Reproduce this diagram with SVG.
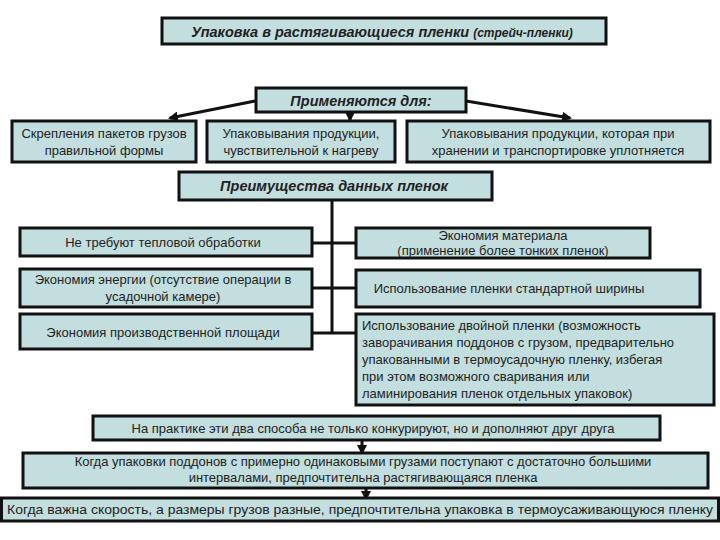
<svg xmlns="http://www.w3.org/2000/svg" width="720" height="540" viewBox="0 0 720 540">
<style>
.b{fill:#c2dede;stroke:#111;stroke-width:3}
text{font-family:"Liberation Sans",Arial,sans-serif;font-size:13px;fill:#222;text-anchor:middle}
.h{font-weight:bold;font-style:italic;font-size:14.5px}
.l{text-anchor:start}
.c{stroke:#111;stroke-width:3;fill:none}
</style>
<defs><marker id="a" markerWidth="10" markerHeight="10" refX="8" refY="5" orient="auto" markerUnits="userSpaceOnUse" viewBox="0 0 10 10"><path d="M0,0L10,5L0,10z" fill="#111"/></marker></defs>
<rect width="720" height="540" fill="#fff"/>
<g id="connectors">
<path class="c" d="M255,101L170,118" marker-end="url(#a)"/>
<path class="c" d="M350,112V120" marker-end="url(#a)"/>
<path class="c" d="M466,101L570,118" marker-end="url(#a)"/>
<path class="c" d="M332,200V333M312,243H355M312,288H355M312,333H355"/>
<path class="c" d="M362,440V453" marker-end="url(#a)"/>
<path class="c" d="M366,488V499" marker-end="url(#a)"/>
</g>
<g id="title"><rect class="b" x="162" y="18" width="444" height="26"/><text x="382" y="37" class="h">Упаковка в растягивающиеся пленки <tspan font-size="12">(стрейч-пленки)</tspan></text></g>
<g id="apply"><rect class="b" x="256" y="88" width="210" height="24"/><text x="361" y="106" class="h">Применяются для:</text></g>
<g id="a1"><rect class="b" x="12" y="121" width="184" height="41"/><text x="104" y="138">Скрепления пакетов грузов</text><text x="104" y="155">правильной формы</text></g>
<g id="a2"><rect class="b" x="207" y="121" width="188" height="41"/><text x="301" y="138">Упаковывания продукции,</text><text x="301" y="155">чувствительной к нагреву</text></g>
<g id="a3"><rect class="b" x="407" y="121" width="303" height="41"/><text x="558" y="138">Упаковывания продукции, которая при</text><text x="558" y="155">хранении и транспортировке уплотняется</text></g>
<g id="adv"><rect class="b" x="179" y="172" width="313" height="28"/><text x="334" y="191" class="h">Преимущества данных пленок</text></g>
<g id="l1"><rect class="b" x="20" y="228" width="292" height="28"/><text x="163" y="247">Не требуют тепловой обработки</text></g>
<g id="l2"><rect class="b" x="20" y="269" width="292" height="38"/><text x="163" y="284">Экономия энергии (отсутствие операции в</text><text x="163" y="301">усадочной камере)</text></g>
<g id="l3"><rect class="b" x="20" y="314" width="292" height="35"/><text x="163" y="337">Экономия производственной площади</text></g>
<g id="r1"><rect class="b" x="356" y="228" width="294" height="30"/><text x="503" y="240">Экономия материала</text><text x="503" y="255">(применение более тонких пленок)</text></g>
<g id="r2"><rect class="b" x="356" y="270" width="344" height="37"/><text x="509" y="293">Использование пленки стандартной ширины</text></g>
<g id="r3"><rect class="b" x="356" y="314" width="358" height="91"/>
<text class="l" x="362" y="330">Использование двойной пленки (возможность</text>
<text class="l" x="362" y="347">заворачивания поддонов с грузом, предварительно</text>
<text class="l" x="362" y="364">упакованными в термоусадочную пленку, избегая</text>
<text class="l" x="362" y="381">при этом возможного сваривания или</text>
<text class="l" x="362" y="398">ламинирования пленок отдельных упаковок)</text></g>
<g id="b1"><rect class="b" x="93" y="416" width="567" height="24"/><text x="373" y="433">На практике эти два способа не только конкурируют, но и дополняют друг друга</text></g>
<g id="b2"><rect class="b" x="23" y="453" width="685" height="35"/><text x="363" y="466">Когда упаковки поддонов с примерно одинаковыми грузами поступают с достаточно большими</text><text x="363" y="482">интервалами, предпочтительна растягивающаяся пленка</text></g>
<g id="b3"><rect class="b" x="1.5" y="498" width="717" height="23"/><text x="360" y="514" textLength="706" lengthAdjust="spacingAndGlyphs">Когда важна скорость, а размеры грузов разные, предпочтительна упаковка в термоусаживающуюся пленку</text></g>
</svg>
